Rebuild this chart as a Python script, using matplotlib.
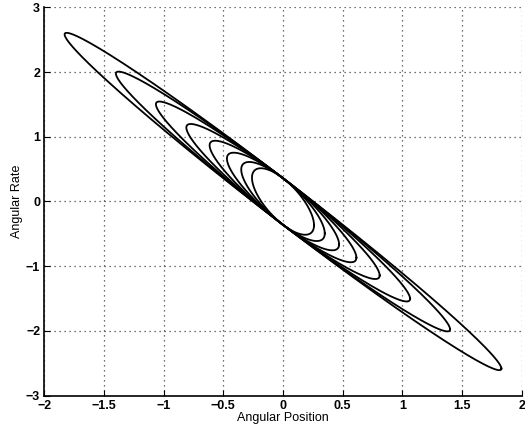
import numpy as np
import matplotlib
matplotlib.use("Agg")
import matplotlib.pyplot as plt

# amplitudes of the nested orbits (angular position extremes)
amplitudes = [1.83, 1.40, 1.065, 0.81, 0.615, 0.47, 0.35, 0.26]
slope = -1.41      # rate / position along the long axis
half_width = 0.36  # rate offset where orbits cross zero position

xticks = [-2, -1.5, -1, -0.5, 0, 0.5, 1, 1.5, 2]
yticks = [-3, -2, -1, 0, 1, 2, 3]

plt.rcParams['font.family'] = ['Liberation Sans', 'DejaVu Sans']

fig = plt.figure(figsize=(5.25, 4.36), dpi=100)
ax = fig.add_axes([0.0844, 0.0924, 0.9093, 0.8909])

t = np.linspace(0, 2 * np.pi, 400)
for a in amplitudes:
    pos = a * np.cos(t)
    rate = slope * pos + half_width * np.sin(t)
    ax.plot(pos, rate, color='black', linewidth=1.3)

ax.set_xlim(-2, 2)
ax.set_ylim(-3, 3)
ax.set_xticks(xticks)
ax.set_yticks(yticks)
ax.set_xticklabels(['\u22122', '\u22121.5', '\u22121', '\u22120.5', '0', '0.5', '1', '1.5', '2'])
ax.set_yticklabels(['\u22123', '\u22122', '\u22121', '0', '1', '2', '3'])
ax.grid(True, linestyle=(0, (1, 3)), color='#444444', linewidth=0.9)
ax.spines['top'].set_visible(False)
ax.spines['right'].set_visible(False)
ax.spines['left'].set_linewidth(1.2)
ax.spines['bottom'].set_linewidth(1.2)
ax.tick_params(direction='in', length=4, labelsize=9, pad=3)
for lab in ax.get_xticklabels() + ax.get_yticklabels():
    lab.set_fontweight('bold')

ax.set_xlabel('Angular Position', fontsize=9, labelpad=0)
ax.set_ylabel('Angular Rate', fontsize=9, labelpad=2)

fig.savefig('out.png', dpi=100)
